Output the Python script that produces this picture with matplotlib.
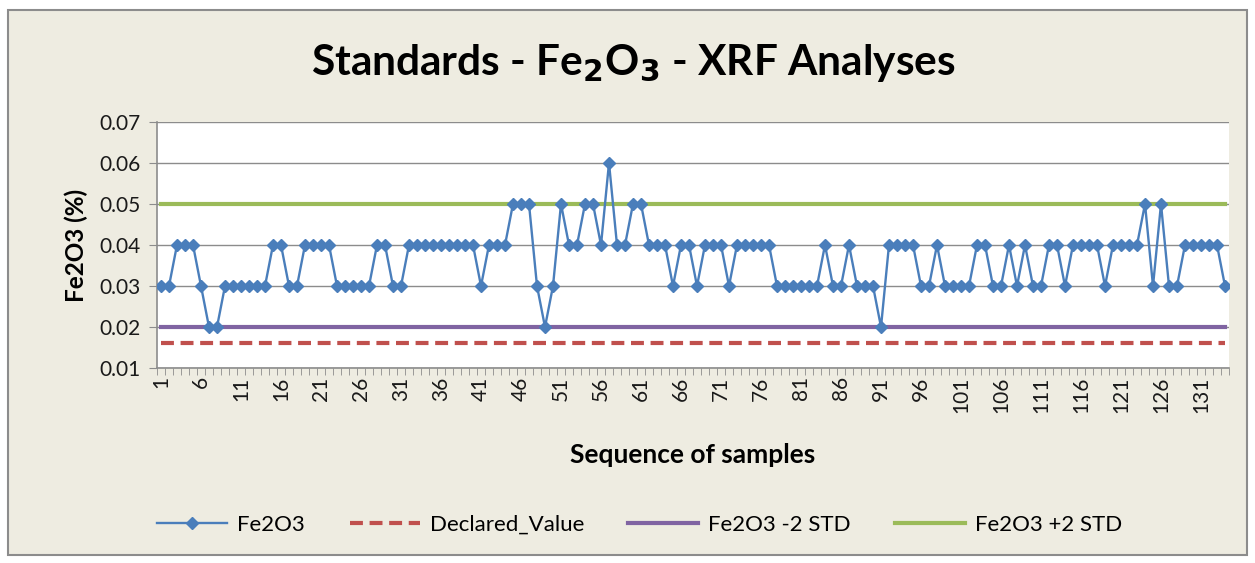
import matplotlib

matplotlib.use("Agg")
import matplotlib.pyplot as plt
import numpy as np
from matplotlib.patches import Rectangle

BG = "#eeece1"
BORDER = "#8c8c8c"
GRID = "#8c8c8c"
BLUE = "#4a7ebb"
RED = "#c0504d"
PURPLE = "#8064a2"
GREEN = "#9bbb59"

plt.rcParams["font.family"] = ["Lato", "DejaVu Sans"]

# Fe2O3 readings for the standard, sample 1..134
fe2o3 = [
    0.03, 0.03, 0.04, 0.04, 0.04, 0.03, 0.02, 0.02, 0.03, 0.03,
    0.03, 0.03, 0.03, 0.03, 0.04, 0.04, 0.03, 0.03, 0.04, 0.04,
    0.04, 0.04, 0.03, 0.03, 0.03, 0.03, 0.03, 0.04, 0.04, 0.03,
    0.03, 0.04, 0.04, 0.04, 0.04, 0.04, 0.04, 0.04, 0.04, 0.04,
    0.03, 0.04, 0.04, 0.04, 0.05, 0.05, 0.05, 0.03, 0.02, 0.03,
    0.05, 0.04, 0.04, 0.05, 0.05, 0.04, 0.06, 0.04, 0.04, 0.05,
    0.05, 0.04, 0.04, 0.04, 0.03, 0.04, 0.04, 0.03, 0.04, 0.04,
    0.04, 0.03, 0.04, 0.04, 0.04, 0.04, 0.04, 0.03, 0.03, 0.03,
    0.03, 0.03, 0.03, 0.04, 0.03, 0.03, 0.04, 0.03, 0.03, 0.03,
    0.02, 0.04, 0.04, 0.04, 0.04, 0.03, 0.03, 0.04, 0.03, 0.03,
    0.03, 0.03, 0.04, 0.04, 0.03, 0.03, 0.04, 0.03, 0.04, 0.03,
    0.03, 0.04, 0.04, 0.03, 0.04, 0.04, 0.04, 0.04, 0.03, 0.04,
    0.04, 0.04, 0.04, 0.05, 0.03, 0.05, 0.03, 0.03, 0.04, 0.04,
    0.04, 0.04, 0.04, 0.03,
]
declared_value = 0.016
minus_2std = 0.02
plus_2std = 0.05

samples = np.arange(1, len(fe2o3) + 1)

fig = plt.figure(figsize=(12.55, 5.63), dpi=100, facecolor="white")
W, H = 1255, 563
fig.patches.append(Rectangle((8 / W, 1 - 555 / H), 1239 / W, 545 / H,
                             transform=fig.transFigure, facecolor=BG,
                             edgecolor=BORDER, lw=1.5, zorder=-10))

ax = fig.add_axes([157 / W, 1 - 368 / H, 1072 / W, 246 / H])
ax.set_facecolor("white")

ax.plot(samples, fe2o3, color=BLUE, lw=1.7, marker="D", markersize=6.5,
        markerfacecolor=BLUE, markeredgecolor=BLUE, label="Fe2O3", zorder=5)
ax.plot(samples, [declared_value] * len(samples), color=RED, lw=3,
        dashes=(3.1, 1.6), label="Declared_Value", zorder=3)
ax.plot(samples, [minus_2std] * len(samples), color=PURPLE, lw=3,
        label="Fe2O3 -2 STD", zorder=3)
ax.plot(samples, [plus_2std] * len(samples), color=GREEN, lw=3,
        label="Fe2O3 +2 STD", zorder=3)

ax.set_xlim(0.5, len(samples) + 0.5)
ax.set_ylim(0.01, 0.07)
ax.set_yticks(np.arange(0.01, 0.0701, 0.01))
ax.set_yticklabels([f"{v:.2f}" for v in np.arange(0.01, 0.0701, 0.01)],
                   fontsize=15, color="#1a1a1a")
ax.yaxis.grid(True, color=GRID, lw=1)
ax.set_axisbelow(True)

ax.set_xticks(samples[::5])
ax.set_xticklabels([str(s) for s in samples[::5]], rotation=90,
                   fontsize=15, color="#1a1a1a")
ax.set_xticks(np.arange(0.5, len(samples) + 1), minor=True)
ax.tick_params(axis="x", which="major", length=0, pad=6)
ax.tick_params(axis="x", which="minor", length=5, color=BORDER, direction="out")
ax.tick_params(axis="y", length=6, color=BORDER, pad=6)

for side in ["top", "right"]:
    ax.spines[side].set_visible(False)
for side in ["left", "bottom"]:
    ax.spines[side].set_color(BORDER)
    ax.spines[side].set_linewidth(1.2)

ax.set_ylabel("Fe2O3 (%)", fontsize=17.5, fontweight="bold", labelpad=8)
ax.set_xlabel("Sequence of samples", fontsize=19, fontweight="bold", labelpad=22)

fig.text(633 / W, 1 - 63 / H, r"Standards - Fe$_\mathbf{2}$O$_\mathbf{3}$ - XRF Analyses",
         ha="center", va="center", fontsize=30.5, fontweight="bold")

fig.legend(loc="center", bbox_to_anchor=(640 / W, 1 - 525 / H), ncol=4,
           frameon=False, fontsize=16, handlelength=3.15, columnspacing=2.0,
           handletextpad=0.45)

fig.savefig("out.png", dpi=100, facecolor="white")
